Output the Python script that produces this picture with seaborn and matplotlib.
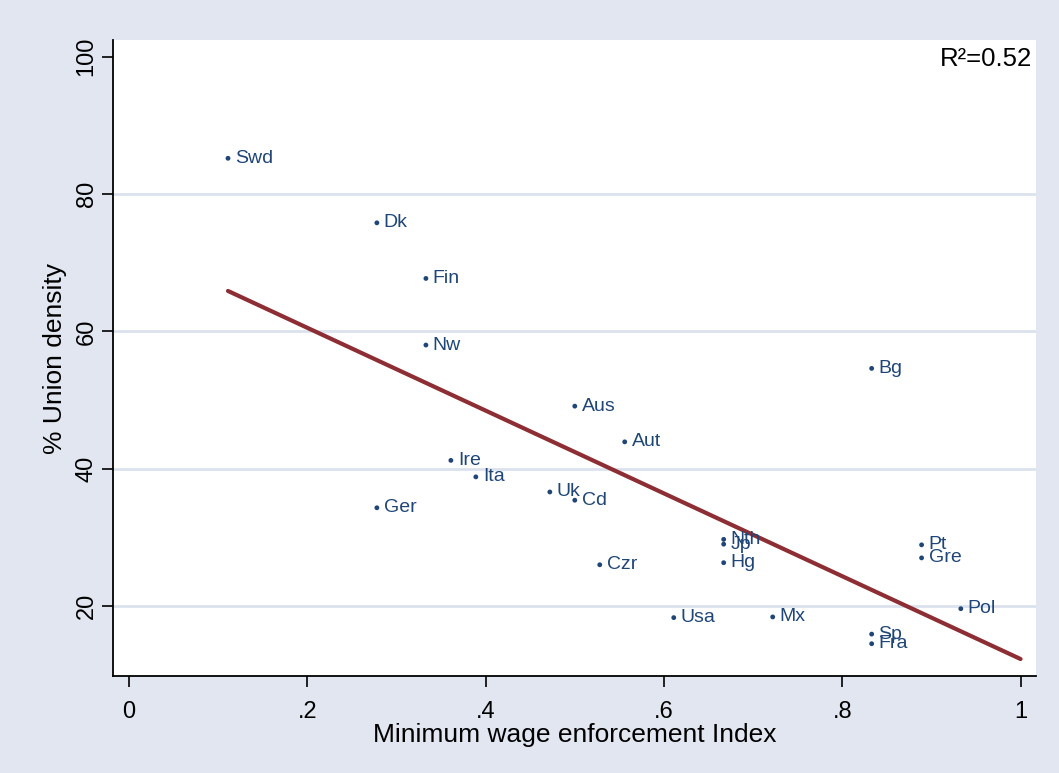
import numpy as np
import pandas as pd
import matplotlib
matplotlib.use("Agg")
import matplotlib.pyplot as plt
import seaborn as sns

# Country codes, minimum-wage enforcement index and union density (%)
countries = ["Swd", "Dk", "Fin", "Nw", "Ire", "Ita", "Ger", "Aus", "Aut", "Uk",
             "Cd", "Czr", "Nth", "Jp", "Hg", "Usa", "Mx", "Bg", "Pt", "Gre",
             "Pol", "Sp", "Fra"]
enforcement = [0.111, 0.278, 0.333, 0.333, 0.361, 0.389, 0.278, 0.500, 0.556, 0.472,
               0.500, 0.528, 0.667, 0.667, 0.667, 0.611, 0.722, 0.833, 0.889, 0.889,
               0.933, 0.833, 0.833]
union_density = [85.2, 75.8, 67.7, 58.0, 41.2, 38.8, 34.3, 49.1, 43.9, 36.6,
                 35.4, 26.0, 29.7, 29.0, 26.3, 18.3, 18.4, 54.6, 28.9, 27.0,
                 19.6, 15.9, 14.5]

x_ticks = [0, 0.2, 0.4, 0.6, 0.8, 1.0]
x_tick_labels = ["0", ".2", ".4", ".6", ".8", "1"]
y_ticks = [20, 40, 60, 80, 100]
r2_label = "R²=0.52"

df = pd.DataFrame({"country": countries, "enf": enforcement, "union": union_density})

# OLS fit drawn from the lowest observed index up to 1
slope, intercept = np.polyfit(df["enf"], df["union"], 1)
fit = pd.DataFrame({"enf": [df["enf"].min(), 1.0]})
fit["union"] = intercept + slope * fit["enf"]

navy = "#1F4676"
maroon = "#8C2E33"
bg = "#E1E6F0"
grid = "#DCE2ED"

sns.set_theme(style="white")
plt.rcParams["font.family"] = ["Liberation Sans", "DejaVu Sans"]

fig = plt.figure(figsize=(10.59, 7.73), dpi=100, facecolor=bg)
ax = fig.add_axes([0.1067, 0.1255, 0.8713, 0.8225])
ax.set_facecolor("white")

for yv in y_ticks[:-1]:
    ax.axhline(yv, color=grid, lw=2.0, zorder=0)

sns.lineplot(data=fit, x="enf", y="union", color=maroon, lw=3.0, ax=ax, zorder=3)
sns.scatterplot(data=df, x="enf", y="union", color=navy, s=12, edgecolor="none",
                ax=ax, zorder=4)

for _, row in df.iterrows():
    ax.annotate(row["country"], (row["enf"], row["union"]), xytext=(5, 0),
                textcoords="offset points", va="center", ha="left",
                fontsize=14, color=navy, zorder=5)

ax.text(0.996, 0.97, r2_label, transform=ax.transAxes, ha="right", va="center",
        fontsize=18.5, color="black")

ax.set_xlim(-0.018, 1.017)
ax.set_ylim(9.8, 102.4)
ax.set_xticks(x_ticks)
ax.set_xticklabels(x_tick_labels)
ax.set_yticks(y_ticks)
ax.set_yticklabels([str(v) for v in y_ticks], rotation=90, va="center")
ax.tick_params(axis="both", direction="out", length=8, width=1.2, color="black",
               labelsize=17, labelcolor="black", bottom=True, left=True)
ax.tick_params(axis="x", pad=10)
ax.tick_params(axis="y", pad=3)

for side in ["top", "right"]:
    ax.spines[side].set_visible(False)
for side in ["left", "bottom"]:
    ax.spines[side].set_color("black")
    ax.spines[side].set_linewidth(1.3)

ax.set_xlabel("Minimum wage enforcement Index", fontsize=19, color="black", labelpad=0)
ax.set_ylabel("% Union density", fontsize=19, color="black", labelpad=6)

fig.savefig("out.png", dpi=100, facecolor=bg)
